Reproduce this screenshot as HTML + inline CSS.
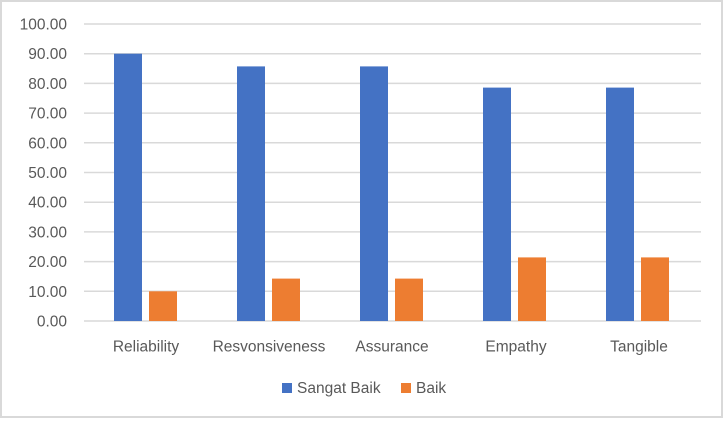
<!DOCTYPE html>
<html><head><style>body{margin:0;background:#fff}</style></head><body>
<svg width="723" height="418" xmlns="http://www.w3.org/2000/svg" font-family="Liberation Sans, sans-serif" font-size="15.5" fill="#595959">
<rect x="1" y="1" width="721" height="416" fill="#fff" stroke="#d9d9d9" stroke-width="2"/>
<g stroke="#d9d9d9" stroke-width="1.5">
<line x1="84" x2="701" y1="24" y2="24"/><line x1="84" x2="701" y1="53.7" y2="53.7"/><line x1="84" x2="701" y1="83.4" y2="83.4"/><line x1="84" x2="701" y1="113.1" y2="113.1"/><line x1="84" x2="701" y1="142.8" y2="142.8"/><line x1="84" x2="701" y1="172.5" y2="172.5"/><line x1="84" x2="701" y1="202.2" y2="202.2"/><line x1="84" x2="701" y1="231.9" y2="231.9"/><line x1="84" x2="701" y1="261.6" y2="261.6"/><line x1="84" x2="701" y1="291.3" y2="291.3"/><line x1="84" x2="701" y1="321" y2="321"/>
</g>
<g text-anchor="end">
<text x="67" y="29.5">100.00</text><text x="67" y="59.2">90.00</text><text x="67" y="88.9">80.00</text><text x="67" y="118.6">70.00</text><text x="67" y="148.3">60.00</text><text x="67" y="178">50.00</text><text x="67" y="207.7">40.00</text><text x="67" y="237.4">30.00</text><text x="67" y="267.1">20.00</text><text x="67" y="296.8">10.00</text><text x="67" y="326.5">0.00</text>
</g>
<g fill="#4472c4">
<rect x="114" y="53.7" width="28" height="267.3"/>
<rect x="237" y="66.4" width="28" height="254.6"/>
<rect x="360" y="66.4" width="28" height="254.6"/>
<rect x="483" y="87.6" width="28" height="233.4"/>
<rect x="606" y="87.6" width="28" height="233.4"/>
</g>
<g fill="#ed7d31">
<rect x="149" y="291.3" width="28" height="29.7"/>
<rect x="272" y="278.6" width="28" height="42.4"/>
<rect x="395" y="278.6" width="28" height="42.4"/>
<rect x="518" y="257.4" width="28" height="63.6"/>
<rect x="641" y="257.4" width="28" height="63.6"/>
</g>
<g text-anchor="middle">
<text x="146" y="351.5">Reliability</text><text x="269" y="351.5">Resvonsiveness</text><text x="392" y="351.5">Assurance</text><text x="516" y="351.5">Empathy</text><text x="639" y="351.5">Tangible</text>
</g>
<rect x="282" y="383" width="10" height="10" fill="#4472c4"/><text x="297" y="393">Sangat Baik</text>
<rect x="401" y="383" width="10" height="10" fill="#ed7d31"/><text x="416" y="393">Baik</text>
</svg>
</body></html>
